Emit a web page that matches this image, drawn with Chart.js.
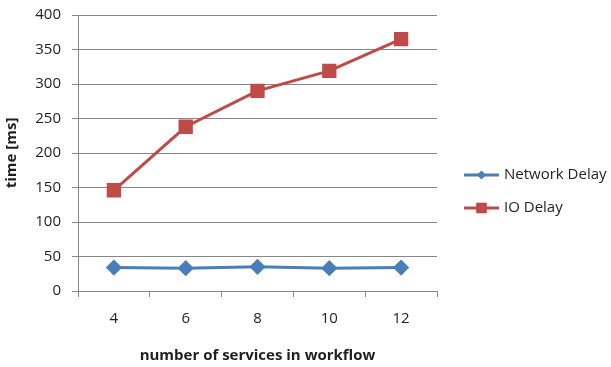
<!DOCTYPE html>
<html>
<head>
<meta charset="utf-8">
<script src="https://cdn.jsdelivr.net/npm/chart.js@4/dist/chart.umd.min.js"></script>
<style>
  html, body { margin: 0; padding: 0; background: #fff; }
  #wrap { width: 611px; height: 367px; }
</style>
</head>
<body>
<div id="wrap"><canvas id="js-line-chart"></canvas></div>
<script>
// Chart data
const services = ['4', '6', '8', '10', '12'];
const networkDelay = [34, 33, 35, 33, 34];
const ioDelay = [146, 238, 290, 319, 365];
const yTicks = [0, 50, 100, 150, 200, 250, 300, 350, 400];

const gridGray = '#878787';
const textColor = '#1f1f1f';

// Legend drawn at the right of the plot, line with marker in the middle
const sideLegend = {
  id: 'sideLegend',
  afterDraw(chart) {
    const ctx = chart.ctx;
    const x0 = chart.chartArea.right + 27;
    chart.data.datasets.forEach((ds, i) => {
      const y = 175 + i * 33;
      ctx.save();
      ctx.strokeStyle = ds.borderColor;
      ctx.lineWidth = 3;
      ctx.beginPath();
      ctx.moveTo(x0, y);
      ctx.lineTo(x0 + 35, y);
      ctx.stroke();
      ctx.fillStyle = ds.borderColor;
      Chart.helpers.drawPoint(ctx, {
        pointStyle: ds.pointStyle,
        radius: ds.legendRadius,
        borderWidth: 0,
        rotation: 0,
      }, x0 + 17.5, y);
      ctx.fillStyle = textColor;
      ctx.font = '15px "Open Sans"';
      ctx.textBaseline = 'middle';
      ctx.fillText(ds.label, x0 + 40, y);
      ctx.restore();
    });
  },
};

const ctx = document.getElementById('js-line-chart').getContext('2d');

const config = {
  type: 'line',
  data: {
    labels: services,
    datasets: [
      {
        label: 'Network Delay',
        data: networkDelay,
        borderColor: '#4a7ebb',
        backgroundColor: '#4a7ebb',
        borderWidth: 3,
        pointStyle: 'rectRot',
        pointRadius: 6,
        legendRadius: 4.5,
        tension: 0,
      },
      {
        label: 'IO Delay',
        data: ioDelay,
        borderColor: '#be4b48',
        backgroundColor: '#be4b48',
        borderWidth: 3,
        pointStyle: 'rect',
        pointRadius: 8,
        legendRadius: 7.5,
        tension: 0,
      },
    ],
  },
  options: {
    responsive: true,
    maintainAspectRatio: false,
    animation: false,
    layout: { padding: { top: 15, right: 174, left: 0, bottom: 0 } },
    plugins: {
      legend: { display: false },
      tooltip: { enabled: false },
    },
    scales: {
      x: {
        offset: true,
        grid: {
          offset: true,
          drawOnChartArea: false,
          drawTicks: true,
          tickLength: 6,
          color: gridGray,
        },
        border: { display: true, color: gridGray },
        ticks: {
          color: textColor,
          padding: 13,
          font: { family: 'Open Sans', size: 15 },
        },
        title: {
          display: true,
          text: 'number of services in workflow',
          color: textColor,
          padding: { top: 0, bottom: 2 },
          font: { family: 'Open Sans', size: 15, weight: 'bold' },
        },
        afterFit(scale) { scale.height = 76; },
      },
      y: {
        min: 0,
        max: 400,
        afterBuildTicks(scale) {
          scale.ticks = yTicks.map(v => ({ value: v }));
        },
        grid: { color: gridGray, tickLength: 6 },
        border: { display: true, color: gridGray },
        ticks: {
          color: textColor,
          padding: 11,
          font: { family: 'Open Sans', size: 15 },
        },
        title: {
          display: true,
          text: 'time [ms]',
          color: textColor,
          padding: { top: 3, bottom: 0 },
          font: { family: 'Open Sans', size: 15, weight: 'bold' },
        },
        afterFit(scale) {
          scale.width = 78;
          scale.paddingTop = 0;
          scale.paddingBottom = 0;
        },
      },
    },
  },
  plugins: [sideLegend],
};

const lineChart = new Chart(ctx, config);
</script>
</body>
</html>
